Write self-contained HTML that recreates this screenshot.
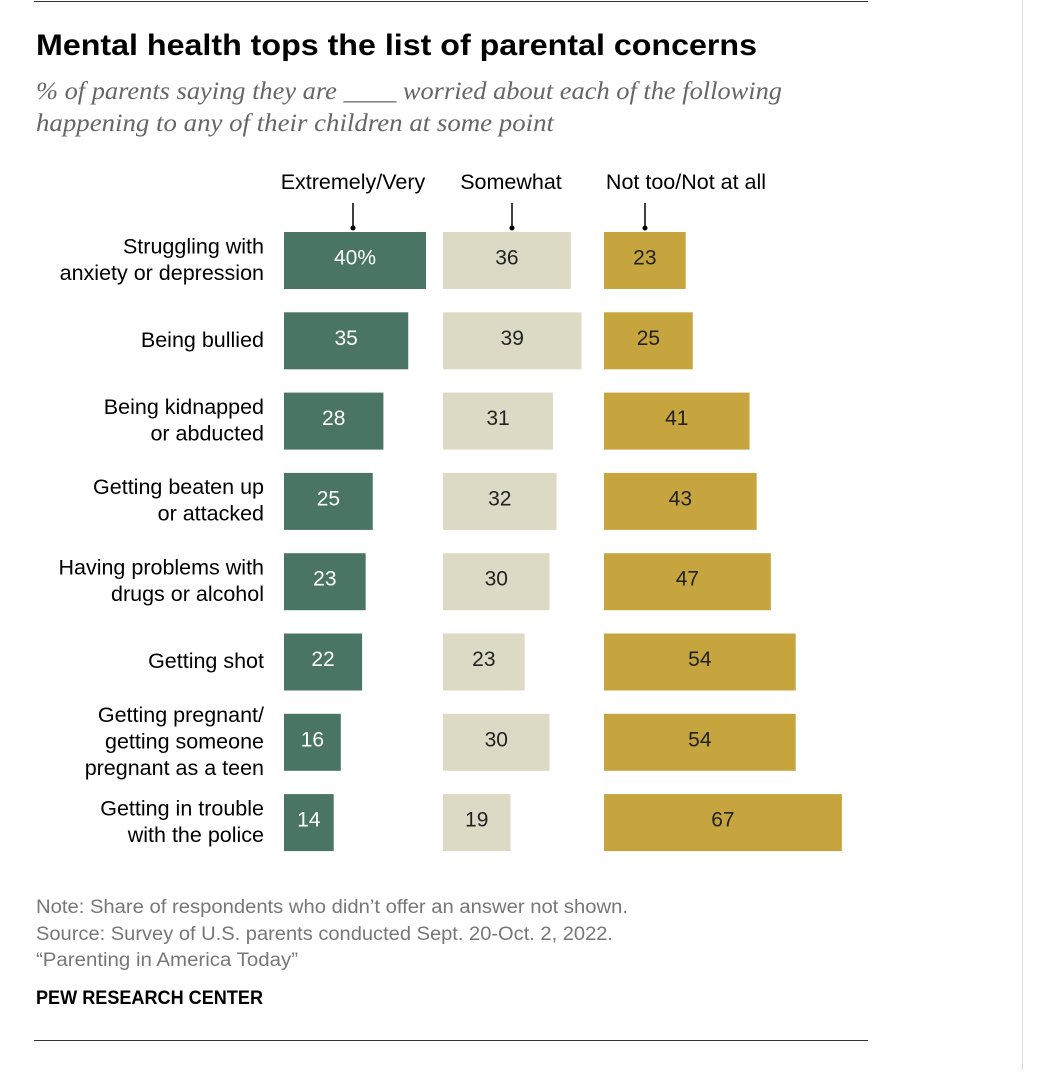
<!DOCTYPE html>
<html><head><meta charset="utf-8"><style>
body{margin:0;background:#fff;width:1054px;height:1070px;overflow:hidden;font-family:"Liberation Sans",sans-serif;}
</style></head><body>
<svg width="1054" height="1070" xmlns="http://www.w3.org/2000/svg" id="svg">
<line x1="34" y1="1.5" x2="868" y2="1.5" stroke="#333" stroke-width="1"/>
<line x1="34" y1="1040.5" x2="868" y2="1040.5" stroke="#333" stroke-width="1"/>
<line x1="1022.5" y1="0" x2="1022.5" y2="1070" stroke="#ddd" stroke-width="1"/>
<text x="36" y="55" font-size="30" font-weight="bold" fill="#000" textLength="721" lengthAdjust="spacingAndGlyphs">Mental health tops the list of parental concerns</text>
<text font-family="Liberation Serif,serif" font-style="italic" font-size="25" fill="#666"><tspan x="36" y="99" textLength="746" lengthAdjust="spacingAndGlyphs">% of parents saying they are ____ worried about each of the following</tspan><tspan x="36" y="131" textLength="518" lengthAdjust="spacingAndGlyphs">happening to any of their children at some point</tspan></text>
<g font-size="19" fill="#777">
<text x="36" y="913" textLength="592" lengthAdjust="spacingAndGlyphs">Note: Share of respondents who didn’t offer an answer not shown.</text>
<text x="36" y="940" textLength="577" lengthAdjust="spacingAndGlyphs">Source: Survey of U.S. parents conducted Sept. 20-Oct. 2, 2022.</text>
<text x="36" y="966" textLength="262" lengthAdjust="spacingAndGlyphs">“Parenting in America Today”</text>
</g>
<text x="36" y="1004" font-size="19" font-weight="bold" fill="#000" textLength="227" lengthAdjust="spacingAndGlyphs">PEW RESEARCH CENTER</text>
<g id="plot"></g>
</svg>
<script>
const categories=[["Struggling with","anxiety or depression"],["Being bullied"],["Being kidnapped","or abducted"],["Getting beaten up","or attacked"],["Having problems with","drugs or alcohol"],["Getting shot"],["Getting pregnant/","getting someone","pregnant as a teen"],["Getting in trouble","with the police"]];
const seriesNames=["Extremely/Very","Somewhat","Not too/Not at all"];
const extremely=[40,35,28,25,23,22,16,14];
const somewhat=[36,39,31,32,30,23,30,19];
const notToo=[23,25,41,43,47,54,54,67];
const series=[extremely,somewhat,notToo];
const colStart=[284,443,604], colors=["#4a7565","#dcdac4","#c6a43e"], textCol=["#fff","#222","#222"];
const headX=[353,511,686], tickX=[353,512,645];
const k=3.55, y0=232, pitch=80.3, bh=57;
const xs=(c,v)=>v*k;
const ys=i=>y0+i*pitch;
const NS="http://www.w3.org/2000/svg", g=document.getElementById('plot');
function mk(t,a,txt){const e=document.createElementNS(NS,t);for(const n in a)e.setAttribute(n,a[n]);if(txt!=null)e.textContent=txt;g.appendChild(e);return e;}
seriesNames.forEach((s,c)=>{
 const h=mk('text',{x:headX[c],y:189,'font-size':21.5,'text-anchor':'middle',fill:'#000'},s);
 
 
 const l=mk('line',{x1:tickX[c],y1:203,x2:tickX[c],y2:228,stroke:'#000','stroke-width':1.5});
 
 
 const d=mk('circle',{cx:tickX[c],cy:228,r:2.5,fill:'#000'});
 
 
});
categories.forEach((lines,i)=>{
 const cy=ys(i)+bh/2, n=lines.length;
 lines.forEach((ln,j)=>{
  const t=mk('text',{x:264,y:cy+6+(j-(n-1)/2)*26.5,'font-size':21.5,'text-anchor':'end',fill:'#000'},ln);
  
  
 });
 series.forEach((arr,c)=>{
  const w=xs(c,arr[i]);
  const r=mk('rect',{x:colStart[c],y:ys(i),width:w,height:bh,fill:colors[c]});
  
  
  const v=mk('text',{x:colStart[c]+w/2,y:cy+4,'font-size':21,'text-anchor':'middle',fill:textCol[c]},(i===0&&c===0)?arr[i]+'%':String(arr[i]));
  
  
 });
});
</script>
</body></html>
